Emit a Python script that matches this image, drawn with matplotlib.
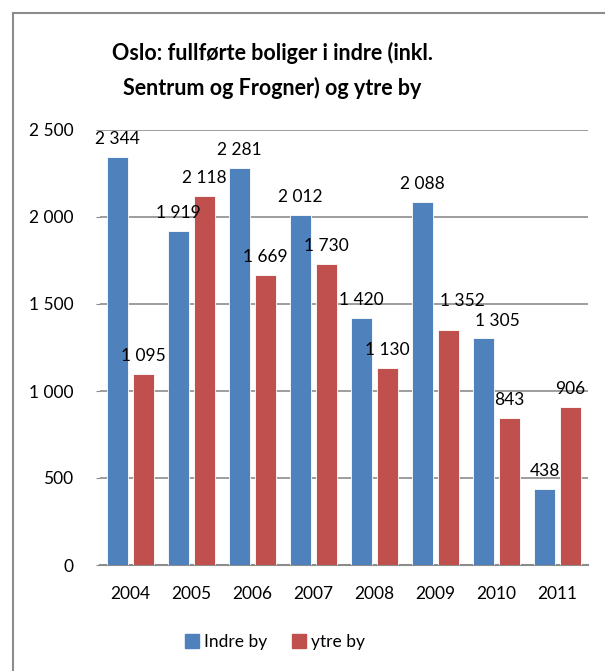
import matplotlib.pyplot as plt
import numpy as np
from matplotlib.lines import Line2D
from matplotlib.patches import Patch

years = ['2004', '2005', '2006', '2007', '2008', '2009', '2010', '2011']
indre_by = [2344, 1919, 2281, 2012, 1420, 2088, 1305, 438]
ytre_by = [1095, 2118, 1669, 1730, 1130, 1352, 843, 906]
yticks = [0, 500, 1000, 1500, 2000, 2500]

blue = '#4F81BD'
red = '#C0504D'
grid_col = '#8C8C8C'

plt.rcParams['font.family'] = ['Lato', 'DejaVu Sans']

def fmt(v):
    return f'{v:,}'.replace(',', ' ')

fig = plt.figure(figsize=(6.05, 6.71), dpi=100)
ax = fig.add_axes([100 / 605, 106 / 671, 488 / 605, 435 / 671])

x = np.arange(len(years))
w = 0.335
off = 0.21
b1 = ax.bar(x - off, indre_by, w, color=blue, edgecolor='white', linewidth=0.6, zorder=3, label='Indre by')
b2 = ax.bar(x + off, ytre_by, w, color=red, edgecolor='white', linewidth=0.6, zorder=3, label='ytre by')

# Excel shoved a couple of labels aside to keep them apart
nudge = {('y', 5): (10, 21), ('i', 6): (10, 12)}

for key, bars, vals in (('i', b1, indre_by), ('y', b2, ytre_by)):
    for i, (bar, v) in enumerate(zip(bars, vals)):
        dx, dy = nudge.get((key, i), (0, 13))
        ax.annotate(fmt(v), (bar.get_x() + bar.get_width() / 2, v),
                    xytext=(dx, dy), textcoords='offset points',
                    ha='center', va='center', fontsize=12.5, color='black', zorder=4)

ax.set_xlim(-0.5, len(years) - 0.5)
ax.set_ylim(0, 2500)
ax.set_yticks(yticks)
ax.set_yticklabels([fmt(v) for v in yticks])
ax.set_xticks(x)
ax.set_xticklabels(years)
ax.tick_params(axis='y', length=3, color=grid_col, pad=16, labelsize=12.5)
ax.tick_params(axis='x', length=0, pad=15, labelsize=12.5)
ax.yaxis.grid(True, color=grid_col, linewidth=1.2, zorder=0)
for s in ['top', 'right', 'left']:
    ax.spines[s].set_visible(False)
ax.spines['bottom'].set_color(grid_col)
ax.spines['bottom'].set_linewidth(1.5)

fig.text(272 / 605, 1 - 53 / 671, 'Oslo: fullførte boliger i indre (inkl.', ha='center', va='center',
         fontsize=15.5, fontweight='bold')
fig.text(272 / 605, 1 - 88 / 671, 'Sentrum og Frogner) og ytre by', ha='center', va='center',
         fontsize=15.5, fontweight='bold')

handles = [Patch(color=blue), Patch(color=red)]
fig.legend(handles, ['Indre by', 'ytre by'], loc='center', bbox_to_anchor=(275 / 605, 1 - 642 / 671),
           ncol=2, frameon=False, fontsize=12.5, handlelength=0.8, handleheight=0.8,
           handletextpad=0.3, columnspacing=1.4)

# chart border
fig.add_artist(Line2D([13 / 605, 13 / 605], [0, 1 - 13 / 671], color='#8C8C8C', linewidth=1.5))
fig.add_artist(Line2D([13 / 605, 1], [1 - 13 / 671, 1 - 13 / 671], color='#8C8C8C', linewidth=1.5))

fig.savefig('out.png', dpi=100)
